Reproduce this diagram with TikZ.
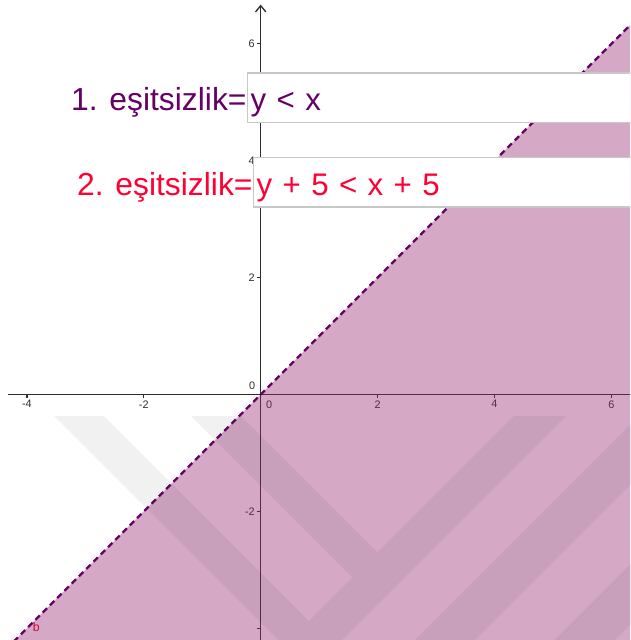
\documentclass[tikz,border=0pt]{standalone}
\usepackage{fontspec}
\setmainfont{Liberation Sans}
\usetikzlibrary{arrows.meta, positioning}
\definecolor{ineqpurple}{RGB}{102,0,102}
\definecolor{ineqred}{RGB}{255,0,51}
\definecolor{regionfill}{RGB}{150,40,112}
\definecolor{axisgray}{RGB}{45,45,45}
\definecolor{boxgray}{RGB}{200,200,200}

\begin{document}
\begin{tikzpicture}[
axisline/.style={axisgray, line width=0.65pt},
ticklbl/.style={font=\fontsize{5.3}{6}\selectfont, text=axisgray, inner sep=1pt},
ineqbox/.style={draw=boxgray, fill=white, line width=0.6pt, inner xsep=1.5pt, inner ysep=0pt, text width=9cm, align=left, anchor=base west, font=\fontsize{15.2}{18}\selectfont},
ineqlbl/.style={inner sep=0pt, anchor=base east, font=\fontsize{15.5}{18}\selectfont}
]
\clip (-4.46,-4.20) rectangle (6.32,6.75);

% axes
\draw[axisline] (-4.32,0) -- (6.6,0);
\draw[axisline, -{Straight Barb[length=3pt, width=5pt]}] (0,-4.5) -- (0,6.67);
\foreach \x in {-4,-2,2,4,6} {
  \draw[axisline] (\x,0) -- (\x,-0.06);
  \node[ticklbl, anchor=north] (xt\x) at (\x,-0.06) {\x};
}
\foreach \y in {-4,-2,2,4,6}
  \draw[axisline] (0,\y) -- (-0.06,\y);
\foreach \y in {-2,2,4,6}
  \node[ticklbl, anchor=east] (yt\y) at (-0.06,\y) {\y};
\node[ticklbl, anchor=north west] (xt0) at (0.05,-0.06) {0};
\node[ticklbl, anchor=south east] (yt0) at (-0.05,0.04) {0};

% region y < x
\coordinate (lo) at (-4.6,-4.6);
\coordinate (hi) at (6.8,6.8);
\fill[regionfill, fill opacity=0.4] (lo) -- (hi) -- (6.8,-4.6) -- cycle;
\draw[ineqpurple, line width=1.1pt, dash pattern=on 3pt off 2pt] (lo) -- (hi);
\node[text=ineqred!75!ineqpurple, font=\fontsize{6}{7}\selectfont, inner sep=0pt] (blbl) at (-3.84,-3.98) {b};

% inequality boxes
\node[ineqbox, text=ineqpurple, text height=0.64cm, text depth=0.2cm] (box1) at (-0.234,4.86) {y < x};
\node[ineqlbl, text=ineqpurple] (lab1) at (box1.base west) {1. eşitsizlik=};
\node[ineqbox, text=ineqred, text height=0.65cm, text depth=0.19cm] (box2) at (-0.132,3.40) {y + 5 < x + 5};
\node[ineqlbl, text=ineqred] (lab2) at (box2.base west) {2. eşitsizlik=};

% watermark
\begin{scope}[transparency group, opacity=0.055]
\fill (-3.53,-0.37) -- (-2.68,-0.37) -- (1.27,-4.32) -- (0.845,-4.745) -- cycle;
\fill (-1.19,-0.37) -- (-0.33,-0.37) -- (2.445,-3.145) -- (2.015,-3.575) -- cycle;
\fill (4.33,-0.37) -- (5.22,-0.37) -- (0.79,-4.8) -- (-0.10,-4.8) -- cycle;
\fill (6.47,-0.37) -- (7.50,-0.37) -- (3.07,-4.8) -- (2.04,-4.8) -- cycle;
\fill (8.86,-0.37) -- (9.89,-0.37) -- (5.46,-4.8) -- (4.43,-4.8) -- cycle;
\end{scope}
\end{tikzpicture}
\end{document}
